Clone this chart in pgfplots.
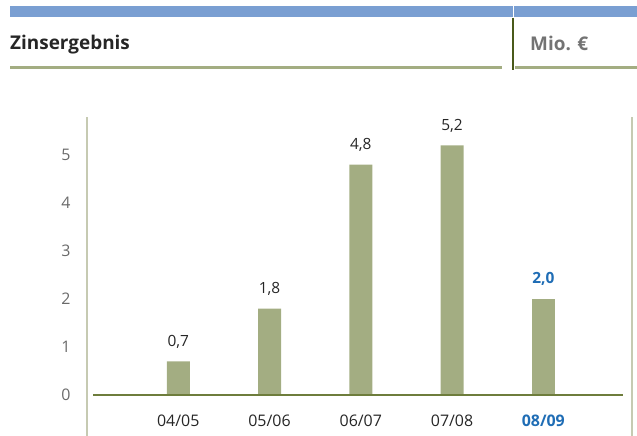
\documentclass[border=0pt]{standalone}
\usepackage{fontspec}
\setmainfont{Open Sans}
\usepackage{pgfplots}
\pgfplotsset{compat=1.18}

\definecolor{headblue}{HTML}{7A9FD2}
\definecolor{olivebar}{HTML}{A3AD82}
\definecolor{olivedark}{HTML}{4A5A1A}
\definecolor{zeroline}{HTML}{6E7D3C}
\definecolor{axisgrey}{HTML}{C6CAB2}
\definecolor{hlblue}{HTML}{1F6DB5}
\definecolor{textdark}{HTML}{262626}
\definecolor{tickgrey}{HTML}{6A6A6A}

\begin{document}
\begin{tikzpicture}[x=1bp,y=1bp]
\path[use as bounding box] (0,0) rectangle (637,436);

% header band
\fill[headblue] (10,419) rectangle (637,430);
\fill[white] (512.5,417) rectangle (514,431);
\fill[olivebar] (10,366.5) rectangle (502,369.5);
\fill[olivebar] (515,366.5) rectangle (637,369.5);
\draw[olivedark, line width=2bp] (513,366) -- (513,418);
\node[anchor=base west, inner sep=0, font=\fontsize{19}{21}\selectfont\bfseries, text=textdark] at (10,386) {Zinsergebnis};
\node[anchor=base west, inner sep=0, font=\fontsize{19}{21}\selectfont\bfseries, text=black!55] at (530,385) {Mio. €};

% right frame line
\draw[axisgrey, line width=2bp] (632,0) -- (632,319);

\begin{axis}[
  at={(87bp,0bp)}, anchor=south west,
  scale only axis, width=545bp, height=319bp,
  xmin=0.0, xmax=5.972,
  ymin=-0.854, ymax=5.79,
  axis x line=none,
  axis y line*=left,
  y axis line style={axisgrey, line width=2bp, -},
  ytick={0,1,2,3,4,5},
  major tick length=0pt,
  /pgf/number format/assume math mode=true,
  yticklabel style={anchor=center, xshift=-21bp, text=tickgrey, font=\fontsize{16}{18}\selectfont},
  ybar, bar width=23bp, bar shift=0pt,
  nodes near coords,
  every node near coord/.append style={anchor=base, yshift=15bp, font=\fontsize{15.5}{17}\selectfont, text=textdark,
     /pgf/number format/fixed, /pgf/number format/fixed zerofill, /pgf/number format/precision=1,
     /pgf/number format/use comma, /pgf/number format/assume math mode=true},
  clip=false,
]
\addplot[fill=olivebar, draw=none] coordinates {(1,0.7) (2,1.8) (3,4.8) (4,5.2)};
\addplot[fill=olivebar, draw=none,
  every node near coord/.append style={text=hlblue, font=\fontsize{15.5}{17}\selectfont\bfseries}]
  coordinates {(5,2.0)};
\draw[zeroline, line width=2bp] (axis cs:0.07,0) -- (axis cs:5.868,0);
% category labels under the base line
\node[anchor=base, inner sep=0, yshift=9bp, font=\fontsize{16}{18}\selectfont, text=textdark] at (axis cs:1,-0.854) {04/05};
\node[anchor=base, inner sep=0, yshift=9bp, font=\fontsize{16}{18}\selectfont, text=textdark] at (axis cs:2,-0.854) {05/06};
\node[anchor=base, inner sep=0, yshift=9bp, font=\fontsize{16}{18}\selectfont, text=textdark] at (axis cs:3,-0.854) {06/07};
\node[anchor=base, inner sep=0, yshift=9bp, font=\fontsize{16}{18}\selectfont, text=textdark] at (axis cs:4,-0.854) {07/08};
\node[anchor=base, inner sep=0, yshift=9bp, font=\fontsize{16}{18}\selectfont\bfseries, text=hlblue] at (axis cs:5,-0.854) {08/09};
\end{axis}
\end{tikzpicture}
\end{document}
